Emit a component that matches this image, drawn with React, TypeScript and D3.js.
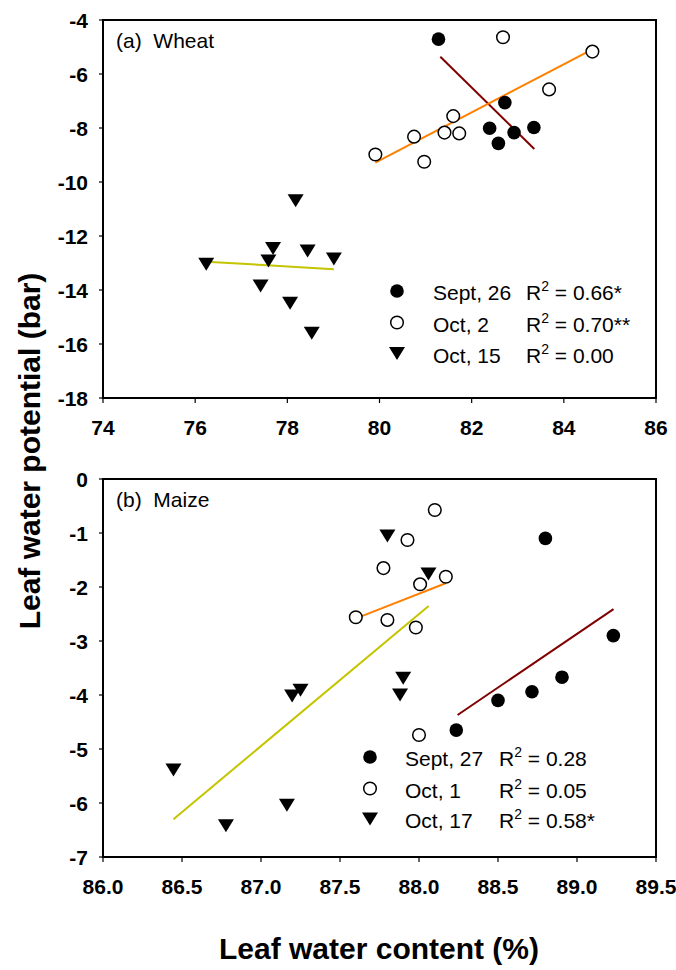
import React from "react";
import * as d3 from "d3";

// ---------- Data ----------
// (a) Wheat
const wheatSept26X = [81.28, 82.72, 82.39, 82.58, 82.92, 83.35];
const wheatSept26Y = [-4.71, -7.06, -8.01, -8.57, -8.17, -7.98];
const wheatOct2X = [82.68, 84.62, 83.68, 81.6, 79.91, 80.75, 80.97, 81.41, 81.73];
const wheatOct2Y = [-4.64, -5.17, -6.57, -7.56, -8.98, -8.32, -9.25, -8.17, -8.2];
const wheatOct15X = [78.18, 76.24, 77.69, 77.59, 78.44, 79.01, 77.42, 78.06, 78.53];
const wheatOct15Y = [-10.69, -13.05, -12.46, -12.93, -12.56, -12.85, -13.85, -14.49, -15.6];
const wheatLineSept26X = [81.32, 83.36];
const wheatLineSept26Y = [-5.36, -8.78];
const wheatLineOct2X = [79.91, 84.62];
const wheatLineOct2Y = [-9.28, -5.09];
const wheatLineOct15X = [76.24, 79.01];
const wheatLineOct15Y = [-12.95, -13.23];
const wheatDates = ["Sept, 26", "Oct, 2", "Oct, 15"];
const wheatR2 = ["0.66*", "0.70**", "0.00"];
const wheatXTicks = [74, 76, 78, 80, 82, 84, 86];
const wheatYTicks = [-4, -6, -8, -10, -12, -14, -16, -18];

// (b) Maize
const maizeSept27X = [88.8, 89.23, 88.905, 88.715, 88.5, 88.236];
const maizeSept27Y = [-1.1, -2.9, -3.67, -3.94, -4.1, -4.65];
const maizeOct1X = [88.1, 87.927, 87.775, 88.007, 88.17, 87.6, 87.8, 87.98, 88.0];
const maizeOct1Y = [-0.574, -1.13, -1.65, -1.95, -1.81, -2.56, -2.61, -2.75, -4.74];
const maizeOct17X = [87.8, 88.06, 87.9, 87.88, 87.25, 87.197, 86.446, 86.778, 87.164];
const maizeOct17Y = [-1.056, -1.76, -3.69, -4.0, -3.91, -4.02, -5.39, -6.42, -6.04];
const maizeLineSept27X = [88.244, 89.231];
const maizeLineSept27Y = [-4.37, -2.41];
const maizeLineOct1X = [87.638, 88.169];
const maizeLineOct1Y = [-2.54, -1.93];
const maizeLineOct17X = [86.446, 88.061];
const maizeLineOct17Y = [-6.3, -2.35];
const maizeDates = ["Sept, 27", "Oct, 1", "Oct, 17"];
const maizeR2 = ["0.28", "0.05", "0.58*"];
const maizeXTicks = [86.0, 86.5, 87.0, 87.5, 88.0, 88.5, 89.0, 89.5];
const maizeYTicks = [0, -1, -2, -3, -4, -5, -6, -7];

const FONT = "'Liberation Sans', Arial, Helvetica, sans-serif";
const COL_RED = "#800000";
const COL_ORANGE = "#ff8000";
const COL_YELLOW = "#c4c400";

const X0 = 103;
const X1 = 656;

type Kind = "filled" | "open" | "tri";

function Marker({ x, y, kind }: { x: number; y: number; kind: Kind }) {
  if (kind === "filled") return <circle cx={x} cy={y} r={6.8} fill="#000" />;
  if (kind === "open")
    return <circle cx={x} cy={y} r={6.3} fill="#fff" stroke="#000" strokeWidth={1.5} />;
  const w = 16,
    h = 13;
  return (
    <path
      d={`M${x - w / 2},${y - h / 2}L${x + w / 2},${y - h / 2}L${x},${y + h / 2}Z`}
      fill="#000"
    />
  );
}

interface PanelProps {
  y0: number;
  y1: number;
  xDomain: [number, number];
  yDomain: [number, number];
  xTicks: number[];
  yTicks: number[];
  xFmt: (v: number) => string;
  label: string;
  series: { xs: number[]; ys: number[]; kind: Kind }[];
  lines: { xs: number[]; ys: number[]; color: string }[];
  dates: string[];
  r2: string[];
  legend: { symX: number; textX: number; rX: number; rows: number[] };
}

function Panel(p: PanelProps) {
  const xs = d3.scaleLinear().domain(p.xDomain).range([X0, X1]);
  const ys = d3.scaleLinear().domain(p.yDomain).range([p.y1, p.y0]);
  const lineGen = d3
    .line<[number, number]>()
    .x((d) => xs(d[0]))
    .y((d) => ys(d[1]));
  const kinds: Kind[] = ["filled", "open", "tri"];
  return (
    <g>
      {/* ticks */}
      {p.yTicks.map((t) => (
        <g key={"y" + t}>
          <line x1={X0 - 4} x2={X0} y1={ys(t)} y2={ys(t)} stroke="#000" strokeWidth={1.2} />
          <text
            x={X0 - 15}
            y={ys(t) + 7.5}
            textAnchor="end"
            fontFamily={FONT}
            fontWeight="bold"
            fontSize={21}
          >
            {t}
          </text>
        </g>
      ))}
      {p.xTicks.map((t) => (
        <g key={"x" + t}>
          <line x1={xs(t)} x2={xs(t)} y1={p.y1} y2={p.y1 + 5} stroke="#000" strokeWidth={1.2} />
          <text
            x={xs(t)}
            y={p.y1 + 37}
            textAnchor="middle"
            fontFamily={FONT}
            fontWeight="bold"
            fontSize={21}
          >
            {p.xFmt(t)}
          </text>
        </g>
      ))}
      {/* regression lines */}
      {p.lines.map((l, i) => (
        <path
          key={"l" + i}
          d={lineGen(l.xs.map((x, j) => [x, l.ys[j]] as [number, number])) || ""}
          fill="none"
          stroke={l.color}
          strokeWidth={2}
        />
      ))}
      {/* points */}
      {p.series.map((s, i) =>
        s.xs.map((x, j) => (
          <Marker key={"p" + i + "_" + j} x={xs(x)} y={ys(s.ys[j])} kind={s.kind} />
        ))
      )}
      {/* frame */}
      <rect
        x={X0}
        y={p.y0}
        width={X1 - X0}
        height={p.y1 - p.y0}
        fill="none"
        stroke="#000"
        strokeWidth={2}
      />
      {/* panel label */}
      <text
        x={X0 + 13}
        y={p.y0 + 28}
        fontFamily={FONT}
        fontSize={21}
        style={{ whiteSpace: "pre" }}
      >
        {p.label}
      </text>
      {/* legend */}
      {p.dates.map((d, i) => {
        const cy = p.legend.rows[i];
        return (
          <g key={"lg" + i}>
            <Marker x={p.legend.symX} y={cy} kind={kinds[i]} />
            <text x={p.legend.textX} y={cy + 9} fontFamily={FONT} fontSize={21}>
              {d}
            </text>
            <text x={p.legend.rX} y={cy + 9} fontFamily={FONT} fontSize={21} style={{ whiteSpace: "pre" }}>
              R
              <tspan dy={-9} fontSize={14}>
                2
              </tspan>
              <tspan dy={9} fontSize={21}>
                {" = " + p.r2[i]}
              </tspan>
            </text>
          </g>
        );
      })}
    </g>
  );
}

export default function App() {
  return (
    <svg width={676} height={970} style={{ display: "block", position: "absolute", left: 0, top: 0 }}>
      <rect x={0} y={0} width={676} height={970} fill="#fff" />
      <Panel
        y0={20}
        y1={398}
        xDomain={[74, 86]}
        yDomain={[-18, -4]}
        xTicks={wheatXTicks}
        yTicks={wheatYTicks}
        xFmt={(v) => d3.format("d")(v)}
        label="(a)  Wheat"
        series={[
          { xs: wheatSept26X, ys: wheatSept26Y, kind: "filled" },
          { xs: wheatOct2X, ys: wheatOct2Y, kind: "open" },
          { xs: wheatOct15X, ys: wheatOct15Y, kind: "tri" },
        ]}
        lines={[
          { xs: wheatLineSept26X, ys: wheatLineSept26Y, color: COL_RED },
          { xs: wheatLineOct2X, ys: wheatLineOct2Y, color: COL_ORANGE },
          { xs: wheatLineOct15X, ys: wheatLineOct15Y, color: COL_YELLOW },
        ]}
        dates={wheatDates}
        r2={wheatR2}
        legend={{ symX: 397, textX: 433, rX: 526, rows: [291, 322.5, 353.5] }}
      />
      <Panel
        y0={479}
        y1={857}
        xDomain={[86, 89.5]}
        yDomain={[-7, 0]}
        xTicks={maizeXTicks}
        yTicks={maizeYTicks}
        xFmt={(v) => d3.format(".1f")(v)}
        label="(b)  Maize"
        series={[
          { xs: maizeSept27X, ys: maizeSept27Y, kind: "filled" },
          { xs: maizeOct1X, ys: maizeOct1Y, kind: "open" },
          { xs: maizeOct17X, ys: maizeOct17Y, kind: "tri" },
        ]}
        lines={[
          { xs: maizeLineSept27X, ys: maizeLineSept27Y, color: COL_RED },
          { xs: maizeLineOct1X, ys: maizeLineOct1Y, color: COL_ORANGE },
          { xs: maizeLineOct17X, ys: maizeLineOct17Y, color: COL_YELLOW },
        ]}
        dates={maizeDates}
        r2={maizeR2}
        legend={{ symX: 370, textX: 405, rX: 499, rows: [757, 788.5, 819] }}
      />
      {/* axis titles */}
      <text
        transform="translate(40,451) rotate(-90)"
        textAnchor="middle"
        fontFamily={FONT}
        fontWeight="bold"
        fontSize={30}
      >
        Leaf water potential (bar)
      </text>
      <text x={379} y={959} textAnchor="middle" fontFamily={FONT} fontWeight="bold" fontSize={30}>
        Leaf water content (%)
      </text>
    </svg>
  );
}
